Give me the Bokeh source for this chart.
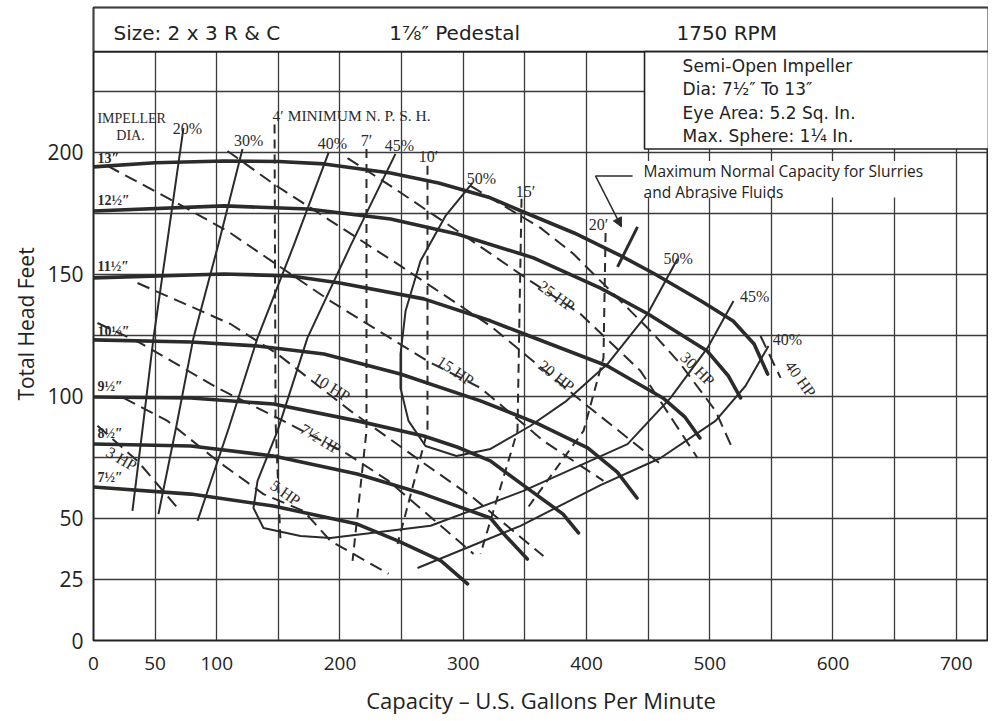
from math import radians
from bokeh.plotting import figure
from bokeh.models import Range1d, FixedTicker, Arrow, NormalHead
from bokeh.core.properties import value
from bokeh.embed import file_html
from bokeh.resources import INLINE

# ---------------- data (GPM, feet) ----------------
x_ticks = [0, 50, 100, 200, 300, 400, 500, 600, 700]
y_ticks = [0, 25, 50, 100, 150, 200]

dia_names = ["13″", "12½″", "11½″", "10½″", "9½″", "8½″", "7½″"]
dia_label_h = [197.7, 180.5, 153.1, 126.8, 103.9, 85.0, 67.0]

d13_q = [0, 50, 106, 150, 187, 241, 280, 322, 347, 390, 428, 454, 493, 519, 536, 547]
d13_h = [194.1, 195.8, 196.5, 196.3, 195.3, 191.6, 187.5, 181.4, 176.0, 167.0, 157.6, 150.6, 139.1, 130.9, 121.5, 109.2]
d125_q = [0, 106, 174, 241, 295, 357, 411, 450, 498, 515, 525]
d125_h = [176.0, 178.1, 176.8, 172.7, 166.6, 156.8, 144.5, 133.8, 118.6, 108.5, 99.4]
d115_q = [0, 106, 160, 200, 268, 322, 349, 417, 462, 480, 492]
d115_h = [148.6, 150.2, 149.4, 146.5, 140.0, 131.0, 125.7, 112.5, 99.4, 91.5, 83.0]
d105_q = [0, 79, 133, 187, 249, 314, 360, 401, 425, 441]
d105_h = [123.2, 122.3, 120.7, 117.4, 109.2, 98.2, 89.0, 78.9, 69.0, 58.4]
d95_q = [0, 79, 146, 214, 268, 295, 322, 355, 381, 393.5]
d95_h = [99.8, 99.4, 96.9, 90.0, 83.8, 79.3, 73.6, 61.3, 51.8, 44.1]
d85_q = [0, 79, 146, 214, 268, 322, 333, 352]
d85_h = [80.5, 79.7, 75.6, 68.2, 60.0, 50.2, 43.6, 33.4]
d75_q = [0, 79, 146, 214, 247, 282, 303.5]
d75_h = [62.9, 60.0, 55.1, 47.7, 40.8, 32.6, 23.2]

# efficiency contours
e20_q = [73, 60.9, 48.7, 40.6, 31.6]
e20_h = [210, 167, 124, 90, 53.1]
e30_q = [120.9, 101.4, 81.1, 67.3, 52.7]
e30_h = [201.4, 162.5, 124, 88, 51.8]
e40_q = [190.7, 162.3, 133.1, 109.5, 84.4]
e40_h = [199.8, 161.7, 124, 86.7, 49]
e45_q = [245, 208.5, 173.6, 149.3, 133.1, 129.8, 137.9, 168, 192.3, 273.5, 348.9, 433.3, 468.2, 498.2, 519.3]
e45_h = [199.4, 161.7, 124, 85.9, 65.4, 54.3, 46.1, 42.8, 42.0, 47.0, 61.3, 80.5, 99.4, 119.9, 139.1]
e50_q = [307.5, 285.6, 265.3, 253.2, 249.1, 249.1, 255.6, 269.4, 294.5, 322.1, 354.6, 383.8, 417, 449.5, 473.9]
e50_h = [187.5, 174, 155.5, 135, 117.4, 103.5, 90, 79.7, 75.6, 78.5, 88, 98.2, 113.3, 133.8, 156.4]
e40r_q = [547.7, 529, 504.7, 460.1, 411.4, 346.5, 262.9]
e40r_h = [120.7, 104.3, 90, 74.8, 63.7, 47, 29.7]

# horsepower lines
hp3_q = [3.2, 35.7, 68.2]
hp3_h = [88, 73.6, 54.3]
hp5_q = [24.3, 60, 100.6, 137.9, 170.4, 192.3, 239.4]
hp5_h = [99.4, 90, 73.6, 60, 53.1, 40.8, 27.3]
hp75_q = [3.2, 38.1, 100.6, 149.3, 206.1, 239.4, 308.3]
hp75_h = [130.1, 121.9, 103.5, 91.2, 76.4, 65.4, 35.5]
hp10_q = [35.7, 111.2, 149.3, 208.5, 265.3, 308.3, 365.1]
hp10_h = [146.5, 129.7, 117.4, 94.1, 73.6, 58.4, 34.6]
hp15_q = [11.4, 60, 108.7, 192.3, 271, 314, 365.1, 413.8]
hp15_h = [194.5, 181.4, 167.8, 139.1, 114.5, 103.5, 81.8, 65.4]
hp20_q = [108.7, 146.1, 249.1, 322.1, 400.8, 460.1]
hp20_h = [200.6, 187.1, 153.5, 128.9, 96.1, 72.3]
hp25_q = [206.1, 241, 295.4, 354.6, 395.2, 443.8, 490.1]
hp25_h = [197.7, 186.3, 167.8, 147.3, 133.8, 110.5, 74.8]
hp30_q = [305.9, 362.7, 389.5, 454.4, 476.3, 504.7, 519.3]
hp30_h = [186.3, 169.1, 158.4, 125.6, 113.3, 94.1, 77.7]
hp40_q = [541.2, 557.5]
hp40_h = [124.8, 107.6]

# NPSH required lines
n4_q = [146.9, 147.7, 151.7]
n4_h = [211.5, 90, 40.8]
n7_q = [221.5, 221.5, 210.2]
n7_h = [201.4, 85.9, 32.6]
n10_q = [271, 271, 246.7]
n10_h = [194.5, 85.9, 39.5]
n15_q = [347.3, 344, 314]
n15_h = [181, 85.9, 35.5]
n20_q = [415.5, 413.8, 397.6, 352.2]
n20_h = [167, 115.8, 85.9, 54.3]

# label texts / anchors
eff_labels = ["20%", "30%", "40%", "45%", "50%", "50%", "45%", "40%"]
eff_lab_q = [76.3, 125.8, 193.9, 248.3, 314.8, 474.3, 536.4, 563.1]
eff_lab_h = [210, 205.1, 203.7, 202.7, 189.5, 156.6, 140.8, 123.2]

npsh_labels = ["7′", "10′", "15′", "20′"]
npsh_lab_q = [221.5, 271.8, 350.5, 409.8]
npsh_lab_h = [205.1, 198.2, 184.2, 170.3]

hp_labels = ["3 HP", "5 HP", "7½ HP", "10 HP", "15 HP", "20 HP", "25 HP", "30 HP", "40 HP"]
hp_lab_q = [22.7, 155.8, 184.2, 193.1, 293.7, 375.7, 375.7, 490.1, 573.7]
hp_lab_h = [74.4, 60.5, 82.6, 103.9, 110.5, 108.4, 141.2, 111.3, 107.2]
hp_lab_deg = [-30, -35, -31, -32, -34, -38, -36, -45, -54]

header_texts = ["Size: 2 x 3 R & C", "1⅞″ Pedestal", "1750 RPM"]
header_q = [16.2, 240, 473]
info_texts = ["Semi-Open Impeller", "Dia: 7½″ To 13″", "Eye Area:  5.2 Sq. In.", "Max. Sphere: 1¼ In."]
info_h = [235.5, 225.8, 216.2, 206.6]
note_texts = ["Maximum Normal Capacity for Slurries", "and Abrasive Fluids"]
note_h = [192.4, 183.8]

X_MAX, Y_MAX = 726.2, 259.4
HEADER_BOTTOM = 241.3
INFO_LEFT, INFO_BOTTOM = 447.1, 201.4

INK = "#2b2b2b"
GRID = "#3a3a3a"
SANS = "Open Sans"
WIDE = "DejaVu Sans"
SERIF = "Liberation Serif"

p = figure(width=988, height=720, output_backend="svg", toolbar_location=None, title=None,
           x_range=Range1d(0, X_MAX), y_range=Range1d(0, Y_MAX),
           min_border_left=93, min_border_right=0, min_border_top=7, min_border_bottom=80)
p.background_fill_color = "white"
p.border_fill_color = "white"
p.outline_line_color = "#222222"
p.outline_line_width = 2

p.xaxis.ticker = FixedTicker(ticks=x_ticks)
p.yaxis.ticker = FixedTicker(ticks=y_ticks)
p.xgrid.ticker = FixedTicker(ticks=list(range(0, 751, 50)))
p.ygrid.ticker = FixedTicker(ticks=list(range(0, 226, 25)))
for g in (p.xgrid, p.ygrid):
    g.grid_line_color = GRID
    g.grid_line_width = 1.3
for ax in (p.xaxis, p.yaxis):
    ax.axis_line_color = None
    ax.major_tick_line_color = None
    ax.minor_tick_line_color = None
    ax.major_tick_out = 0
    ax.major_tick_in = 0
    ax.minor_tick_out = 0
    ax.minor_tick_in = 0
    ax.major_label_text_font = SANS
    ax.major_label_text_color = "#222222"
    ax.axis_label_text_font = SANS
    ax.axis_label_text_font_style = "normal"
    ax.axis_label_text_color = "#222222"
p.xaxis.major_label_text_font_size = "19px"
p.yaxis.major_label_text_font_size = "21px"
p.xaxis.major_label_standoff = 16
p.yaxis.major_label_standoff = 10
p.xaxis.axis_label = "Capacity – U.S. Gallons Per Minute"
p.xaxis.axis_label_text_font_size = "22px"
p.xaxis.axis_label_standoff = 12
p.yaxis.axis_label = "Total Head Feet"
p.yaxis.axis_label_text_font_size = "21px"
p.yaxis.axis_label_standoff = 4

# header and info boxes
p.quad(left=[0], right=[X_MAX], bottom=[HEADER_BOTTOM], top=[Y_MAX],
       fill_color="white", line_color="#222222", line_width=2)
p.quad(left=[INFO_LEFT], right=[X_MAX], bottom=[INFO_BOTTOM], top=[HEADER_BOTTOM],
       fill_color="white", line_color="#222222", line_width=1.6)
p.quad(left=[444], right=[682], bottom=[181.5], top=[196.5], fill_color="white", line_color=None)

p.text(x=header_q, y=[249] * 3, text=header_texts, text_font=value(WIDE),
       text_font_size="20px", text_baseline="middle", text_color="#222222")
p.text(x=[478] * 4, y=info_h, text=info_texts, text_font=value(WIDE),
       text_font_size="17px", text_baseline="middle", text_color="#222222")
p.text(x=[446.3] * 2, y=note_h, text=note_texts, text_font=value(SANS),
       text_font_size="15.5px", text_baseline="middle", text_color="#222222")

# diameter curves
for q, h in [(d13_q, d13_h), (d125_q, d125_h), (d115_q, d115_h), (d105_q, d105_h),
             (d95_q, d95_h), (d85_q, d85_h), (d75_q, d75_h)]:
    p.line(q, h, line_color=INK, line_width=3.6, line_cap="round", line_join="round")

# efficiency curves
for q, h in [(e20_q, e20_h), (e30_q, e30_h), (e40_q, e40_h), (e45_q, e45_h),
             (e50_q, e50_h), (e40r_q, e40r_h)]:
    p.line(q, h, line_color=INK, line_width=2, line_join="round")

# horsepower lines
for q, h in [(hp3_q, hp3_h), (hp5_q, hp5_h), (hp75_q, hp75_h), (hp10_q, hp10_h),
             (hp15_q, hp15_h), (hp20_q, hp20_h), (hp25_q, hp25_h), (hp30_q, hp30_h),
             (hp40_q, hp40_h)]:
    p.line(q, h, line_color=INK, line_width=2, line_dash="13 7")

# NPSH lines
for q, h in [(n4_q, n4_h), (n7_q, n7_h), (n10_q, n10_h), (n15_q, n15_h), (n20_q, n20_h)]:
    p.line(q, h, line_color=INK, line_width=2, line_dash="9 6")

# maximum normal capacity marker
p.line([441.4, 425.2], [169.5, 153.1], line_color=INK, line_width=3)
p.line([407.3, 437.4], [190.4, 190.4], line_color=INK, line_width=1.5)
p.add_layout(Arrow(end=NormalHead(size=9, fill_color=INK, line_color=INK),
                   x_start=407.3, y_start=190.4, x_end=428.4, y_end=169.5,
                   line_color=INK, line_width=1.5))

# labels
p.text(x=[3.2] * 7, y=dia_label_h, text=dia_names, text_font=value(SERIF),
       text_font_size="14px", text_font_style="bold", text_baseline="middle", text_color=INK)
p.text(x=[3.2], y=[214.1], text=["IMPELLER"], text_font=value(SERIF), text_font_size="14px",
       text_baseline="middle", text_color=INK)
p.text(x=[30], y=[206.8], text=["DIA."], text_font=value(SERIF), text_font_size="14px",
       text_baseline="middle", text_align="center", text_color=INK)
p.text(x=[211], y=[215], text=["4′ MINIMUM  N. P. S. H."], text_font=value(SERIF),
       text_font_size="15.5px", text_baseline="middle", text_align="center", text_color=INK)
p.text(x=eff_lab_q, y=eff_lab_h, text=eff_labels, text_font=value(SERIF), text_font_size="16px",
       text_baseline="middle", text_align="center", text_color=INK)
p.text(x=npsh_lab_q, y=npsh_lab_h, text=npsh_labels, text_font=value(SERIF), text_font_size="16px",
       text_baseline="middle", text_align="center", text_color=INK)
p.text(x=hp_lab_q, y=hp_lab_h, text=hp_labels, angle=[radians(a) for a in hp_lab_deg],
       text_font=value(SERIF), text_font_size="16px", text_baseline="middle",
       text_align="center", text_color=INK)

open("out.html", "w").write(file_html(p, INLINE))
